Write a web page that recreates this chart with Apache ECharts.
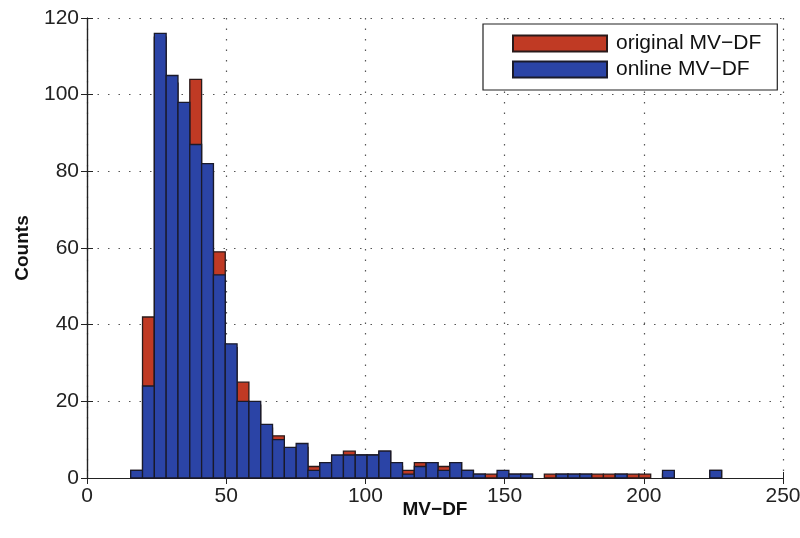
<!DOCTYPE html>
<html>
<head>
<meta charset="utf-8">
<script src="https://cdn.jsdelivr.net/npm/echarts@6/dist/echarts.min.js"></script>
<style>html,body{margin:0;padding:0;background:#fff;}#c{width:800px;height:538px;}</style>
</head>
<body>
<div id="c"></div>
<script>
// Histogram bins (MV-DF)
const binStart = 15.7;
const binWidth = 4.245;
const originalCounts = [2, 42, 115, 103, 96, 104, 80, 59, 34, 25, 19, 13, 11, 7, 8, 3, 4, 5, 7, 6, 6, 7, 3, 2, 4, 4, 3, 4, 2, 1,
  1, 1, 1, 1, 0, 1, 1, 1, 1, 1, 1, 1, 1, 1, 0, 1, 0, 0, 0, 2];
const onlineCounts = [2, 24, 116, 105, 98, 87, 82, 53, 35, 20, 20, 14, 10, 8, 9, 2, 4, 6, 6, 6, 6, 7, 4, 1, 3, 4, 2, 4, 2, 1,
  0, 2, 1, 1, 0, 0, 1, 1, 1, 0, 0, 1, 0, 0, 0, 2, 0, 0, 0, 2];
const seriesNames = ['original MV\u2212DF', 'online MV\u2212DF'];
const xTicks = [0, 50, 100, 150, 200, 250];
const yTicks = [0, 20, 40, 60, 80, 100, 120];

function toData(counts) {
  const out = [];
  counts.forEach((c, i) => {
    if (c > 0) out.push([binStart + i * binWidth, binStart + (i + 1) * binWidth, c]);
  });
  return out;
}
function renderBar(params, api) {
  const p0 = api.coord([api.value(0), 0]);
  const p1 = api.coord([api.value(1), api.value(2)]);
  return {
    type: 'rect',
    shape: { x: p0[0], y: p1[1], width: p1[0] - p0[0], height: p0[1] - p1[1] },
    style: api.style()
  };
}
const font = 'Liberation Sans, Arial, Helvetica, sans-serif';
const chart = echarts.init(document.getElementById('c'));
const axisLine = { show: true, lineStyle: { color: '#222', width: 1.2 } };
const tick = { show: true, inside: true, length: 6, lineStyle: { color: '#222', width: 1 } };
const grid = { show: true, lineStyle: { color: '#555', type: [1.5, 9], width: 1.2 } };
chart.setOption({
  animation: false,
  backgroundColor: '#fff',
  grid: { left: 87, right: 17, top: 18, bottom: 60, outerBoundsMode: 'none', containLabel: false },
  legend: {
    orient: 'vertical', left: 483, top: 24,
    padding: [9, 16, 10, 29],
    itemWidth: 94, itemHeight: 16, itemGap: 5,
    backgroundColor: '#fff', borderColor: '#222', borderWidth: 1.2,
    icon: 'rect',
    textStyle: { fontFamily: font, fontSize: 21, color: '#111', padding: [0, 0, 0, 4] },
    data: seriesNames
  },
  xAxis: [{
    type: 'value', min: xTicks[0], max: xTicks[xTicks.length - 1], interval: 50,
    axisLine: axisLine, axisTick: tick,
    axisLabel: { fontFamily: font, fontSize: 21, color: '#222', margin: 8 },
    splitLine: grid,
    name: 'MV\u2212DF', nameLocation: 'middle', nameGap: 22, nameMoveOverlap: false,
    nameTextStyle: { fontFamily: font, fontSize: 19, fontWeight: 'bold', color: '#111' }
  }, {
    type: 'value', position: 'top', min: 0, max: 250, interval: 50,
    axisLine: axisLine, axisTick: tick, axisLabel: { show: false }, splitLine: { show: false }
  }],
  yAxis: [{
    type: 'value', min: yTicks[0], max: yTicks[yTicks.length - 1], interval: 20,
    axisLine: axisLine, axisTick: tick,
    axisLabel: { fontFamily: font, fontSize: 21, color: '#222', margin: 8 },
    splitLine: grid,
    name: 'Counts', nameLocation: 'middle', nameGap: 55, nameRotate: 90, nameMoveOverlap: false,
    nameTextStyle: { fontFamily: font, fontSize: 19, fontWeight: 'bold', color: '#111' }
  }, {
    type: 'value', position: 'right', min: 0, max: 120, interval: 20,
    axisLine: axisLine, axisTick: tick, axisLabel: { show: false }, splitLine: { show: false }
  }],
  series: [{
    name: seriesNames[0], type: 'custom', renderItem: renderBar,
    xAxisIndex: 0, yAxisIndex: 0,
    itemStyle: { color: '#c03a24', borderColor: '#2a1a1a', borderWidth: 1.3 },
    encode: { x: [0, 1], y: 2 },
    data: toData(originalCounts)
  }, {
    name: seriesNames[1], type: 'custom', renderItem: renderBar,
    xAxisIndex: 0, yAxisIndex: 0,
    itemStyle: { color: '#2b44a6', borderColor: '#1a1a2a', borderWidth: 1.3 },
    encode: { x: [0, 1], y: 2 },
    data: toData(onlineCounts)
  }]
});
</script>
</body>
</html>
